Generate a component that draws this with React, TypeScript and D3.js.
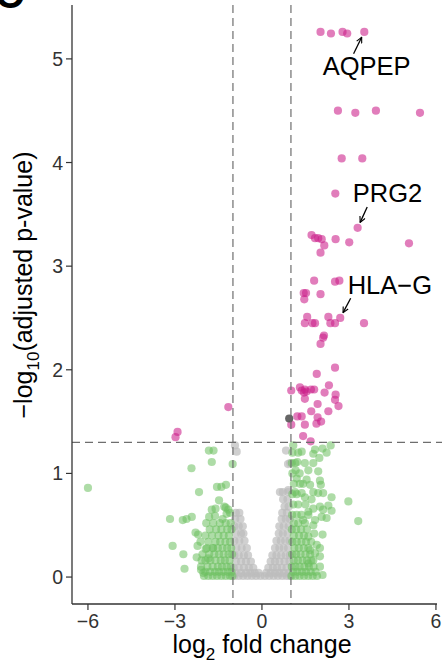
import * as d3 from 'd3';

// -log10 adjusted p vs log2 fold change
const sigPoints: [number, number][] = [
  [2.02, 5.26], [2.38, 5.245], [2.78, 5.26], [2.94, 5.245], [3.53, 5.26],
  [2.62, 4.5], [3.22, 4.48], [3.93, 4.5], [5.45, 4.48],
  [2.75, 4.04], [3.46, 4.04], [2.53, 3.7], [3.3, 3.37],
  [1.71, 3.3], [1.83, 3.27], [1.94, 3.27], [2.06, 3.26], [2.54, 3.26], [3.01, 3.23],
  [2.15, 3.2], [2.02, 3.13], [5.07, 3.22],
  [1.8, 2.86], [2.52, 2.85], [2.67, 2.86],
  [1.44, 2.74], [1.52, 2.74], [2.02, 2.73], [1.46, 2.68],
  [1.56, 2.51], [2.29, 2.51], [2.7, 2.5],
  [1.48, 2.45], [1.74, 2.45], [1.83, 2.45], [2.36, 2.45], [2.52, 2.45], [3.52, 2.45],
  [2.14, 2.33], [2.11, 2.31], [2.02, 2.25],
  [2.52, 2.02], [1.89, 1.96], [2.31, 1.85],
  [1.01, 1.8], [1.31, 1.83], [1.37, 1.8], [1.45, 1.78], [1.54, 1.79], [1.48, 1.81],
  [1.69, 1.81], [1.8, 1.81], [1.48, 1.72], [2.16, 1.78], [2.54, 1.76], [2.52, 1.71],
  [2.64, 1.65], [1.92, 1.67], [1.7, 1.6], [2.29, 1.6], [1.22, 1.55], [1.37, 1.55],
  [1.92, 1.54], [2.04, 1.5], [1.88, 1.48], [1.01, 1.47], [1.48, 1.47], [1.42, 1.36],
  [1.68, 1.31],
  [-1.16, 1.64], [-2.91, 1.4], [-2.98, 1.35],
];

const pOnlyPoints: [number, number][] = [[0.94, 1.53]];

const fcPoints: [number, number][] = [
  [-6.0, 0.86], [-3.17, 0.56], [-3.08, 0.3], [-2.71, 0.22], [-2.67, 0.08], [-2.43, 1.05],
  [-1.83, 1.22], [-1.67, 1.22], [-1.73, 1.11], [-1.01, 1.09], [-2.17, 0.82],
  [-1.55, 0.87], [-1.4, 0.87], [-1.24, 0.89], [-1.48, 0.74],
  [-2.73, 0.55], [-2.6, 0.56], [-2.42, 0.58], [-2.29, 0.43], [-2.2, 0.41],
  [-1.73, 0.65], [-1.6, 0.66], [-1.25, 0.67], [-1.16, 0.65], [-1.82, 0.58], [-1.62, 0.59],
  [-1.36, 0.56], [-1.22, 0.61], [-1.3, 0.68], [-1.1, 0.62],
  [-2.22, 0.3], [-1.94, 0.27], [-2.25, 0.19], [-2.08, 0.16], [-2.1, 0.07], [-1.85, 0.18],
  [-1.68, 0.28], [-2.02, 0.04],
  [1.08, 1.27], [1.37, 1.21], [1.77, 1.19], [1.83, 1.23], [2.09, 1.24], [2.37, 1.27],
  [2.23, 1.2], [1.98, 1.15], [1.22, 1.11], [1.48, 1.1], [1.77, 1.1], [1.16, 1.03],
  [1.6, 1.03], [1.94, 1.02], [1.2, 0.95], [1.54, 0.94], [2.0, 0.93], [2.03, 0.89],
  [1.31, 0.9], [1.66, 0.89], [1.14, 0.82], [1.37, 0.81], [1.77, 0.82], [1.94, 0.81],
  [2.11, 0.81], [1.48, 0.77], [1.71, 0.75], [2.4, 0.77], [2.98, 0.73], [2.29, 0.69],
  [2.0, 0.68], [1.77, 0.66], [2.11, 0.65], [2.4, 0.64], [1.6, 0.63], [3.32, 0.54],
  [2.06, 0.58], [2.23, 0.57], [1.83, 0.55], [1.42, 0.55], [1.77, 0.5], [1.8, 0.42],
  [2.09, 0.41], [1.6, 0.39], [1.89, 0.31], [2.0, 0.28], [1.66, 0.26], [1.83, 0.23],
  [2.0, 0.2], [1.77, 0.16], [1.6, 0.13], [2.09, 0.02],
];

// dense parts of the clouds, as rows: [y, x values]
const fcRows: [number, number[]][] = [
  [0.01, [-2.0, -1.85, -1.7, -1.55, -1.4, -1.25, -1.1, -1.02, 1.02, 1.15, 1.3, 1.45, 1.6, 1.75, 1.9]],
  [0.05, [-1.95, -1.78, -1.62, -1.48, -1.33, -1.18, -1.05, 1.08, 1.22, 1.38, 1.52, 1.68, 1.85]],
  [0.1, [-2.1, -1.88, -1.7, -1.52, -1.38, -1.22, -1.08, 1.03, 1.16, 1.3, 1.46, 1.62, 1.78, 2.0]],
  [0.16, [-1.95, -1.78, -1.6, -1.42, -1.28, -1.12, 1.1, 1.24, 1.4, 1.55, 1.7]],
  [0.22, [-2.05, -1.82, -1.64, -1.48, -1.32, -1.15, -1.03, 1.04, 1.18, 1.33, 1.5, 1.66]],
  [0.28, [-1.9, -1.7, -1.52, -1.36, -1.2, -1.06, 1.12, 1.27, 1.44, 1.6]],
  [0.34, [-2.12, -1.85, -1.6, -1.44, -1.26, -1.1, 1.05, 1.2, 1.36, 1.52, 1.7]],
  [0.4, [-1.95, -1.72, -1.5, -1.32, -1.14, 1.1, 1.28, 1.45]],
  [0.46, [-1.8, -1.58, -1.4, -1.2, -1.05, 1.03, 1.18, 1.35, 1.55]],
  [0.52, [-1.92, -1.68, -1.45, -1.25, -1.08, 1.1, 1.25, 1.48]],
  [0.6, [1.04, 1.2, 1.36, 1.6]],
  [0.7, [1.08, 1.25, 1.5]],
  [0.8, [1.05, 1.2]],
  [0.9, [1.1, 1.42]],
  [1.0, [1.05, 1.3]],
  [1.1, [1.03, 1.15]],
  [1.2, [1.05, 1.25]],
];

const nsRows: [number, number[]][] = [
  [0.01, [-0.95, -0.8, -0.65, -0.5, -0.35, -0.2, -0.05, 0.1, 0.25, 0.4, 0.55, 0.7, 0.85, 0.97]],
  [0.04, [-0.9, -0.72, -0.55, -0.4, -0.25, -0.12, 0.15, 0.3, 0.45, 0.6, 0.75, 0.92]],
  [0.09, [-0.97, -0.8, -0.62, -0.45, -0.3, 0.22, 0.38, 0.52, 0.68, 0.85]],
  [0.15, [-0.9, -0.72, -0.55, -0.38, 0.3, 0.45, 0.6, 0.78, 0.95]],
  [0.21, [-0.95, -0.8, -0.62, -0.48, 0.36, 0.5, 0.66, 0.82, 0.96]],
  [0.28, [-0.88, -0.7, -0.52, 0.45, 0.6, 0.75, 0.9]],
  [0.35, [-0.95, -0.78, -0.6, 0.5, 0.65, 0.8, 0.95]],
  [0.42, [-0.9, -0.72, -0.64, 0.58, 0.72, 0.88]],
  [0.49, [-0.95, -0.8, -0.66, 0.6, 0.75, 0.92]],
  [0.56, [-0.92, -0.74, 0.68, 0.82, 0.96]],
  [0.62, [-0.9, -0.78, 0.7, 0.86]],
  [0.68, [0.78, 0.92]],
  [0.75, [0.73, 0.88]],
  [0.82, [0.62, 0.72, 0.9]],
];

const nsPoints: [number, number][] = [
  [-0.93, 1.27], [-0.87, 1.21], [0.83, 1.22], [0.9, 1.09], [0.97, 1.1], [0.91, 0.84],
];

const geneLabels = [
  { name: 'AQPEP', point: [3.53, 5.26], text: [3.61, 4.84], from: [3.16, 5.05] },
  { name: 'PRG2', point: [3.3, 3.37], text: [4.33, 3.62], from: [3.63, 3.57] },
  { name: 'HLA\u2212G', point: [2.7, 2.5], text: [4.41, 2.73], from: [3.06, 2.69] },
];

const xTicks = [-6, -3, 0, 3, 6];
const yTicks = [0, 1, 2, 3, 4, 5];
const fcCut = [-1, 1];
const pCut = 1.3;

const W = 442;
const H = 660;
const FONT = '"Liberation Sans", Arial, Helvetica, sans-serif';

const rowsToPoints = (rows: [number, number[]][]) =>
  rows.flatMap(([y, xs]) => xs.map((x) => [x, y] as [number, number]));

export default function App() {
  const x = d3.scaleLinear().domain([-6.55, 6.14]).range([72, 440]);
  const y = d3.scaleLinear().domain([-0.26, 5.52]).range([604, 5]);

  const grey = [...rowsToPoints(nsRows), ...nsPoints];
  const green = [...rowsToPoints(fcRows), ...fcPoints];

  const dots = (pts: [number, number][], fill: string, op: number) =>
    pts.map((d, i) => (
      <circle key={i} cx={x(d[0])} cy={y(d[1])} r={4.1} fill={fill} fillOpacity={op} />
    ));

  return (
    <svg
      width={W}
      height={H}
      style={{ position: 'absolute', left: 0, top: 0, background: '#fff' }}
      fontFamily={FONT}
    >
      <defs>
        <marker id="ah" viewBox="0 0 10 10" refX="9" refY="5" markerWidth="7" markerHeight="7"
          orient="auto" markerUnits="userSpaceOnUse">
          <path d="M1,1 L9,5 L1,9" fill="none" stroke="#000" strokeWidth={1.6} />
        </marker>
      </defs>

      {/* panel letter, cut off at the top */}
      <text x={-5} y={8} fontSize={40} fontWeight="bold" fill="#000">C</text>

      <g>{dots(grey, '#bcbcbc', 0.7)}</g>
      <g>{dots(green, '#6cbf5e', 0.55)}</g>
      <g>{dots(sigPoints, '#cc1f8a', 0.58)}</g>
      <g>{dots(pOnlyPoints, '#555', 0.9)}</g>

      {/* thresholds */}
      {fcCut.map((v) => (
        <line key={v} x1={x(v)} x2={x(v)} y1={5} y2={604} stroke="#6e6e6e"
          strokeWidth={1.2} strokeDasharray="8,5" />
      ))}
      <line x1={72} x2={442} y1={y(pCut)} y2={y(pCut)} stroke="#6e6e6e"
        strokeWidth={1.2} strokeDasharray="8,5" />

      {/* gene labels */}
      {geneLabels.map((g) => {
        const px = x(g.point[0]);
        const py = y(g.point[1]);
        const fx = x(g.from[0]);
        const fy = y(g.from[1]);
        const len = Math.hypot(px - fx, py - fy);
        const ex = px - ((px - fx) / len) * 6;
        const ey = py - ((py - fy) / len) * 6;
        return (
          <g key={g.name}>
            <line x1={fx} y1={fy} x2={ex} y2={ey} stroke="#000" strokeWidth={1.3}
              markerEnd="url(#ah)" />
            <text x={x(g.text[0])} y={y(g.text[1])} textAnchor="middle" fontSize={25.5}
              fill="#000">{g.name}</text>
          </g>
        );
      })}

      {/* y axis */}
      <line x1={72} x2={72} y1={5} y2={604} stroke="#333" strokeWidth={1.3} />
      {yTicks.map((t) => (
        <g key={t} transform={`translate(0,${y(t)})`}>
          <line x1={66} x2={72} stroke="#333" strokeWidth={1.2} />
          <text x={63} dy="0.36em" textAnchor="end" fontSize={19.5} fill="#333">{t}</text>
        </g>
      ))}

      {/* x axis */}
      <line x1={72} x2={437} y1={604} y2={604} stroke="#333" strokeWidth={1.3} />
      {xTicks.map((t) => (
        <g key={t} transform={`translate(${x(t)},604)`}>
          <line y1={0} y2={6} stroke="#333" strokeWidth={1.2} />
          <text y={24} textAnchor="middle" fontSize={19.5} fill="#333">
            {t < 0 ? `\u2212${-t}` : t}
          </text>
        </g>
      ))}

      {/* titles */}
      <text x={262} y={653} textAnchor="middle" fontSize={25} fill="#000">
        log<tspan fontSize={17} dy={7}>2</tspan>
        <tspan dy={-7}> fold change</tspan>
      </text>
      <text transform="translate(32,285) rotate(-90)" textAnchor="middle" fontSize={25} fill="#000">
        {'\u2212log'}<tspan fontSize={17} dy={7}>10</tspan>
        <tspan dy={-7}>(adjusted p-value)</tspan>
      </text>
    </svg>
  );
}
